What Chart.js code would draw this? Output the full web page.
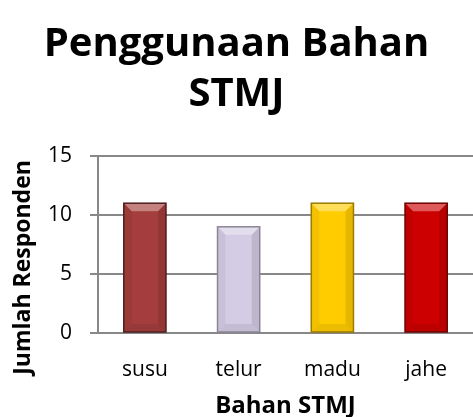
<!DOCTYPE html>
<html>
<head>
<meta charset="utf-8">
<title>Penggunaan Bahan STMJ</title>
<script src="https://cdn.jsdelivr.net/npm/chart.js@4.4.0/dist/chart.umd.min.js"></script>
<style>
  html, body { margin: 0; padding: 0; background: #fff; }
  #wrap { width: 473px; height: 417px; }
</style>
</head>
<body>
<div id="wrap"><canvas id="barChart" width="473" height="417"></canvas></div>

<script>
// data
var bahan = ["susu", "telur", "madu", "jahe"];
var jumlah = [11, 9, 11, 11];
var yTicks = [0, 5, 10, 15];

var warna = ["#A33E3D", "#D4CCE4", "#FFCC00", "#CC0000"];
var warnaGaris = ["#4E1E1E", "#8C8496", "#9A7A00", "#6E0000"];

// bevel look like the office chart
var bevelPlugin = {
    id: 'bevel',
    afterDatasetsDraw: function (chart) {
        var ctx = chart.ctx;
        var meta = chart.getDatasetMeta(0);
        meta.data.forEach(function (bar, i) {
            var l = bar.x - bar.width / 2, r = bar.x + bar.width / 2;
            var t = bar.y, b = bar.base, s = 8;
            ctx.save();
            // top
            ctx.fillStyle = "rgba(255,255,255,0.35)";
            ctx.beginPath();
            ctx.moveTo(l, t); ctx.lineTo(r, t); ctx.lineTo(r - s, t + s); ctx.lineTo(l + s, t + s);
            ctx.closePath(); ctx.fill();
            // left
            ctx.fillStyle = "rgba(0,0,0,0.05)";
            ctx.beginPath();
            ctx.moveTo(l, t); ctx.lineTo(l + s, t + s); ctx.lineTo(l + s, b - s); ctx.lineTo(l, b);
            ctx.closePath(); ctx.fill();
            // right
            ctx.fillStyle = "rgba(0,0,0,0.10)";
            ctx.beginPath();
            ctx.moveTo(r, t); ctx.lineTo(r - s, t + s); ctx.lineTo(r - s, b - s); ctx.lineTo(r, b);
            ctx.closePath(); ctx.fill();
            // bottom
            ctx.fillStyle = "rgba(0,0,0,0.08)";
            ctx.beginPath();
            ctx.moveTo(l, b); ctx.lineTo(l + s, b - s); ctx.lineTo(r - s, b - s); ctx.lineTo(r, b);
            ctx.closePath(); ctx.fill();
            // outline
            ctx.strokeStyle = warnaGaris[i];
            ctx.lineWidth = 1.5;
            ctx.strokeRect(l, t, r - l, b - t);
            ctx.restore();
        });
    }
};

// y axis title sits a bit lower than the plot middle in the original
var yTitlePlugin = {
    id: 'yTitle',
    afterDraw: function (chart) {
        var ctx = chart.ctx, a = chart.chartArea;
        ctx.save();
        ctx.translate(23, (a.top + a.bottom) / 2 + 23);
        ctx.rotate(-Math.PI / 2);
        ctx.textAlign = "center";
        ctx.textBaseline = "middle";
        ctx.fillStyle = "#000";
        ctx.font = "bold 23px 'Open Sans'";
        ctx.fillText("Jumlah Responden", 0, 0);
        ctx.restore();
    }
};

new Chart(document.getElementById("barChart").getContext("2d"), {
    type: 'bar',
    data: {
        labels: bahan,
        datasets: [{
            label: 'Jumlah Responden',
            data: jumlah,
            backgroundColor: warna,
            borderWidth: 0,
            barPercentage: 0.45,
            categoryPercentage: 1
        }]
    },
    options: {
        responsive: false,
        animation: false,
        layout: { padding: { top: 20, right: 0, bottom: 0, left: 0 } },
        plugins: {
            legend: { display: false },
            tooltip: { enabled: false },
            title: {
                display: true,
                text: ["Penggunaan Bahan", "STMJ"],
                color: "#000",
                font: { family: "'Open Sans'", size: 40, weight: 'bold', lineHeight: 1.25 },
                padding: { top: 0, bottom: 36 }
            }
        },
        scales: {
            x: {
                afterFit: function (axis) { axis.height = 84; },
                grid: { display: false },
                border: { display: false },
                ticks: {
                    color: "#000",
                    padding: 16,
                    font: { family: "'Open Sans'", size: 21 }
                },
                title: {
                    display: true,
                    text: "Bahan STMJ",
                    color: "#000",
                    padding: { top: 0, bottom: -4 },
                    font: { family: "'Open Sans'", size: 24, weight: 'bold' }
                }
            },
            y: {
                min: 0,
                max: 15,
                afterBuildTicks: function (axis) {
                    axis.ticks = yTicks.map(function (v) { return { value: v }; });
                },
                afterFit: function (axis) { axis.width = 98; },
                grid: { color: "#888888", lineWidth: 2, tickLength: 8 },
                border: { color: "#888888", width: 2 },
                ticks: {
                    color: "#000",
                    padding: 18,
                    font: { family: "'Open Sans'", size: 21 }
                },
                title: { display: false }
            }
        }
    },
    plugins: [bevelPlugin, yTitlePlugin]
});
</script>
</body>
</html>
